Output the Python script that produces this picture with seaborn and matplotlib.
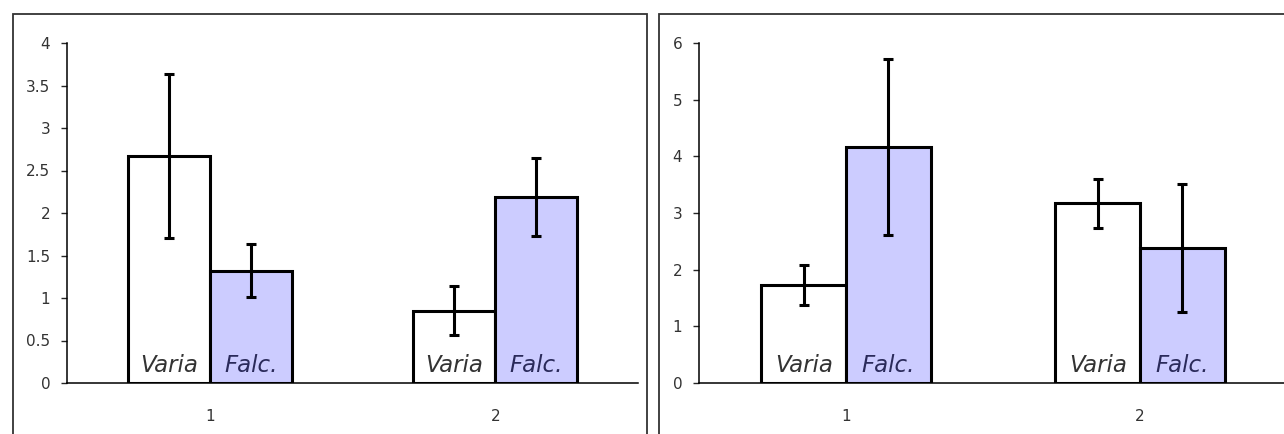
import pandas as pd
import matplotlib
matplotlib.use('Agg')
import matplotlib.pyplot as plt
from matplotlib.patches import Rectangle
from matplotlib.ticker import FuncFormatter, FixedLocator
import seaborn as sns

# Data
categories = ['1', '2']
species = ['Varia', 'Falc.']

left_varia = [2.67, 0.85]
left_falc = [1.32, 2.19]
left_varia_err = [0.96, 0.29]
left_falc_err = [0.31, 0.46]

right_varia = [1.73, 3.17]
right_falc = [4.16, 2.38]
right_varia_err = [0.36, 0.43]
right_falc_err = [1.55, 1.13]

left_yticks = [0, 0.5, 1, 1.5, 2, 2.5, 3, 3.5, 4]
right_yticks = [0, 1, 2, 3, 4, 5, 6]

colors = {'Varia': 'white', 'Falc.': '#CCCCFF'}
text_colors = {'Varia': '#333333', 'Falc.': '#2a2a5a'}

sns.set_style('white')
plt.rcParams['font.family'] = ['DejaVu Sans']


def make_df(varia, falc, varia_err, falc_err):
    rows = []
    for i, c in enumerate(categories):
        rows.append({'cat': c, 'species': 'Varia', 'value': varia[i], 'err': varia_err[i]})
        rows.append({'cat': c, 'species': 'Falc.', 'value': falc[i], 'err': falc_err[i]})
    return pd.DataFrame(rows)


def draw_panel(ax, df, yticks):
    sns.barplot(data=df, x='cat', y='value', hue='species', order=categories,
                hue_order=species, palette=colors, saturation=1, edgecolor='black',
                linewidth=2.2, width=0.575, gap=0, errorbar=None, legend=False, ax=ax)
    for container, level in zip(ax.containers, species):
        errs = df[df['species'] == level].set_index('cat').loc[categories, 'err'].values
        for bar, e in zip(container, errs):
            x = bar.get_x() + bar.get_width() / 2
            y = bar.get_height()
            ax.errorbar(x, y, yerr=e, fmt='none', ecolor='black', elinewidth=2.2,
                        capsize=3.3, capthick=2.2, zorder=5)
            ax.text(x, 0.032, level, transform=ax.get_xaxis_transform(), ha='center',
                    va='baseline', style='italic', fontsize=16.5, color=text_colors[level])
    ax.set_xlim(-0.5, 1.5)
    ax.set_ylim(yticks[0], yticks[-1])
    ax.set_yticks(yticks)
    ax.yaxis.set_major_formatter(FuncFormatter(lambda v, p: '%g' % v))
    ax.xaxis.set_minor_locator(FixedLocator([-0.5, 0.5, 1.5]))
    ax.tick_params(axis='x', which='major', length=0, pad=19, labelsize=11, labelcolor='#333333')
    ax.tick_params(axis='x', which='minor', length=4, width=1, direction='out', color='black')
    ax.tick_params(axis='y', length=4, width=1, direction='out', pad=8, labelsize=11,
                   labelcolor='#333333', left=True)
    ax.set_xlabel('')
    ax.set_ylabel('')
    sns.despine(ax=ax)
    for s in ['left', 'bottom']:
        ax.spines[s].set_color('black')
        ax.spines[s].set_linewidth(1.1)
    ax.patch.set_alpha(0)


fig = plt.figure(figsize=(12.84, 4.34), dpi=100)
W, H = 1284, 434

# Panel frames
fig.add_artist(Rectangle((13 / W, -0.02), (647 - 13) / W, 1.02 - 14 / H,
                         transform=fig.transFigure, fill=False, edgecolor='#333333', linewidth=1.3))
fig.add_artist(Rectangle((659 / W, -0.02), (1300 - 659) / W, 1.02 - 14 / H,
                         transform=fig.transFigure, fill=False, edgecolor='#333333', linewidth=1.3))

ax1 = fig.add_axes([67 / W, 51 / H, (638 - 67) / W, 340 / H])
ax2 = fig.add_axes([699 / W, 51 / H, (1287 - 699) / W, 340 / H])

draw_panel(ax1, make_df(left_varia, left_falc, left_varia_err, left_falc_err), left_yticks)
draw_panel(ax2, make_df(right_varia, right_falc, right_varia_err, right_falc_err), right_yticks)

fig.savefig('out.png', dpi=100)
plt.close(fig)
